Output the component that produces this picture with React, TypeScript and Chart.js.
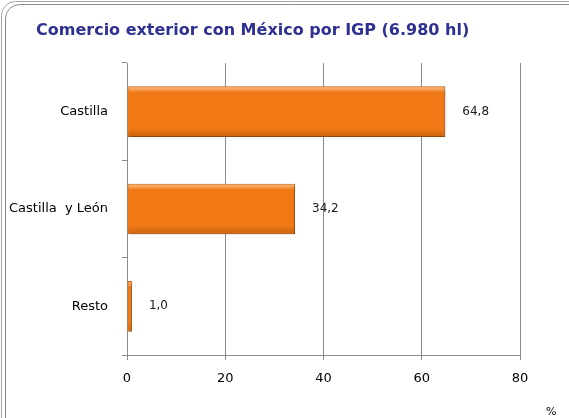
import React, { useEffect, useRef } from "react";
import { Chart, registerables } from "chart.js";

Chart.register(...registerables);

const titleText = "Comercio exterior con México por IGP (6.980 hl)";
const categories = ["Castilla", "Castilla  y León", "Resto"];
const values = [64.8, 34.2, 1.0];
const xTicks = [0, 20, 40, 60, 80];
const unitLabel = "%";

const FONT = "'DejaVu Sans', Verdana, sans-serif";

const framePlugin = {
  id: "frame",
  beforeDraw(chart: any) {
    const ctx = chart.ctx;
    const w = chart.width;
    const h = chart.height;
    ctx.save();
    ctx.fillStyle = "#ffffff";
    ctx.fillRect(0, 0, w, h);
    ctx.strokeStyle = "#a6a6a6";
    ctx.lineWidth = 1;
    ctx.beginPath();
    ctx.moveTo(1.5, h);
    ctx.lineTo(1.5, 16);
    ctx.arcTo(1.5, 1.5, 16, 1.5, 14);
    ctx.lineTo(w, 1.5);
    ctx.stroke();
    ctx.strokeStyle = "#8c8c8c";
    ctx.beginPath();
    ctx.moveTo(5.5, h);
    ctx.lineTo(5.5, 18);
    ctx.arcTo(5.5, 4.5, 19, 4.5, 14);
    ctx.lineTo(w, 4.5);
    ctx.stroke();
    ctx.fillStyle = "#2e3192";
    ctx.font = `bold 16px ${FONT}`;
    ctx.textAlign = "left";
    ctx.textBaseline = "middle";
    ctx.fillText(titleText, 36, 31);
    ctx.fillStyle = "#000000";
    ctx.font = `11px ${FONT}`;
    ctx.fillText(unitLabel, 546, 412);
    ctx.restore();
  },
};

const shadowPlugin = {
  id: "barShadow",
  beforeDatasetDraw(chart: any) {
    const ctx = chart.ctx;
    ctx.save();
    ctx.shadowColor = "rgba(0,0,0,0.35)";
    ctx.shadowOffsetX = 2;
    ctx.shadowOffsetY = 2;
    ctx.shadowBlur = 3;
  },
  afterDatasetDraw(chart: any) {
    const ctx = chart.ctx;
    ctx.restore();
    // bevel highlight overlay
    const meta = chart.getDatasetMeta(0);
    ctx.save();
    meta.data.forEach((bar: any) => {
      const top = bar.y - bar.height / 2;
      const left = Math.min(bar.base, bar.x);
      const width = Math.abs(bar.x - bar.base);
      const g = ctx.createLinearGradient(0, top, 0, top + bar.height);
      g.addColorStop(0, "rgba(255,200,140,0.75)");
      g.addColorStop(0.12, "rgba(255,255,255,0)");
      g.addColorStop(0.85, "rgba(0,0,0,0)");
      g.addColorStop(1, "rgba(120,50,0,0.25)");
      ctx.fillStyle = g;
      ctx.fillRect(left + 1, top + 1, width - 2, bar.height - 2);
    });
    ctx.restore();
  },
};

const labelPlugin = {
  id: "valueLabels",
  afterDatasetsDraw(chart: any) {
    const ctx = chart.ctx;
    const meta = chart.getDatasetMeta(0);
    ctx.save();
    ctx.fillStyle = "#1a1a1a";
    ctx.font = `12px ${FONT}`;
    ctx.textAlign = "left";
    ctx.textBaseline = "middle";
    meta.data.forEach((bar: any, i: number) => {
      const v = values[i];
      ctx.fillText(v.toFixed(1).replace(".", ","), bar.x + 17, bar.y);
    });
    ctx.restore();
  },
};

export default function App() {
  const ref = useRef<HTMLCanvasElement>(null);
  useEffect(() => {
    document.body.style.margin = "0";
    const chart = new Chart(ref.current!, {
      type: "bar",
      data: {
        labels: categories,
        datasets: [
          {
            data: values,
            backgroundColor: "#f07815",
            borderColor: "#c9630d",
            borderWidth: 1,
            barPercentage: 0.52,
            categoryPercentage: 1,
          },
        ],
      },
      options: {
        indexAxis: "y",
        animation: false,
        responsive: false,
        maintainAspectRatio: false,
        layout: { padding: { left: 0, right: 49, top: 63, bottom: 0 } },
        plugins: {
          legend: { display: false },
          title: { display: false },
          tooltip: { enabled: false },
        },
        scales: {
          x: {
            min: 0,
            max: 80,
            afterFit(scale: any) {
              scale.height = 63;
            },
            afterBuildTicks(scale: any) {
              scale.ticks = xTicks.map((v) => ({ value: v }));
            },
            grid: {
              color: "#8c8c8c",
              lineWidth: 1,
              tickLength: 5,
              drawTicks: true,
            },
            border: { color: "#8c8c8c", width: 1 },
            ticks: {
              color: "#000000",
              font: { family: FONT, size: 13 },
              padding: 11,
            },
          },
          y: {
            offset: true,
            afterFit(scale: any) {
              scale.width = 127;
            },
            grid: {
              offset: true,
              drawOnChartArea: false,
              drawTicks: true,
              tickLength: 5,
              color: "#8c8c8c",
            },
            border: { color: "#8c8c8c", width: 1 },
            ticks: {
              color: "#000000",
              font: { family: FONT, size: 13 },
              padding: 14,
            },
          },
        },
      },
      plugins: [framePlugin, shadowPlugin, labelPlugin],
    } as any);
    return () => chart.destroy();
  }, []);
  return (
    <div style={{ position: "absolute", left: 0, top: 0, width: 569, height: 418 }}>
      <canvas ref={ref} width={569} height={418} style={{ width: 569, height: 418 }} />
    </div>
  );
}
